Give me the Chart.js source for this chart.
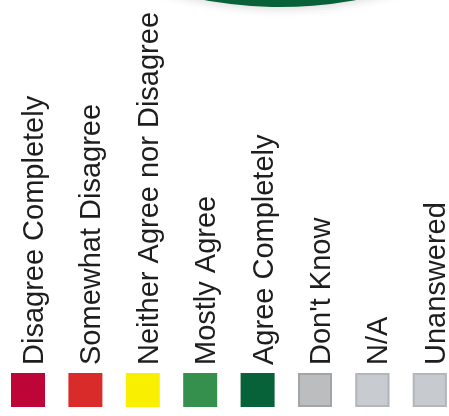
<!DOCTYPE html>
<html>
<head>
<meta charset="utf-8">
<script src="https://cdn.jsdelivr.net/npm/chart.js@4"></script>
<style>
  html, body { margin: 0; padding: 0; background: #fff; overflow: hidden; }
  #frame { position: relative; width: 449px; height: 416px; overflow: hidden; background: #fff; }
  #ring { position: absolute; left: -140px; top: -833px; }
</style>
</head>
<body>
<div id="frame">
  <canvas id="ring" width="840" height="1249"></canvas>
</div>
<script>
// answer categories, in survey order
const answers = [
  'Disagree Completely',
  'Somewhat Disagree',
  'Neither Agree nor Disagree',
  'Mostly Agree',
  'Agree Completely',
  "Don't Know",
  'N/A',
  'Unanswered'
];
// response counts per answer
const counts = [0, 1, 1, 4, 14, 0, 0, 0];
const swatch = ['#bd0537', '#da2b2b', '#f9ef00', '#36904d', '#086239', '#bcbdbe', '#c8cbd0', '#c7cbcf'];
const swatchEdge = [null, null, null, null, null, '#a3a4a6', '#b3b6ba', '#b3b7bb'];

// canvas offset relative to the visible frame
const OFF_X = 140, OFF_Y = 833;

// vertical legend under the ring: rotated labels above coloured squares
const verticalLegend = {
  id: 'verticalLegend',
  afterDraw(chart) {
    const ctx = chart.ctx;
    const labels = chart.data.labels;
    const colors = chart.data.datasets[0].backgroundColor;
    const step = 57.4;
    ctx.save();
    ctx.translate(OFF_X, OFF_Y);
    labels.forEach((text, i) => {
      const x = 11 + i * step;
      ctx.fillStyle = colors[i];
      ctx.fillRect(x, 373, 34, 34);
      if (swatchEdge[i]) {
        ctx.strokeStyle = swatchEdge[i];
        ctx.lineWidth = 2;
        ctx.strokeRect(x + 1, 374, 32, 32);
      }
      ctx.save();
      ctx.translate(x + 32, 365);
      ctx.rotate(-Math.PI / 2);
      ctx.fillStyle = '#1e1e1e';
      ctx.font = '29px "Liberation Sans", Arial, sans-serif';
      ctx.textAlign = 'left';
      ctx.textBaseline = 'alphabetic';
      ctx.fillText(text, 0, 0);
      ctx.restore();
    });
    ctx.restore();
  }
};

// soft shadow under the ring
const ringShadow = {
  id: 'ringShadow',
  beforeDatasetsDraw(chart) {
    const ctx = chart.ctx;
    ctx.save();
    ctx.shadowColor = 'rgba(0,0,0,0.12)';
    ctx.shadowBlur = 8;
    ctx.shadowOffsetY = 3;
  },
  afterDatasetsDraw(chart) {
    chart.ctx.restore();
  }
};

new Chart(document.getElementById('ring'), {
  type: 'doughnut',
  data: {
    labels: answers,
    datasets: [{
      data: counts,
      backgroundColor: swatch,
      borderWidth: 0
    }]
  },
  options: {
    responsive: false,
    animation: false,
    cutout: '55%',
    layout: { padding: { bottom: 409 } },
    plugins: {
      legend: { display: false },
      tooltip: { enabled: false }
    }
  },
  plugins: [ringShadow, verticalLegend]
});
</script>
</body>
</html>
